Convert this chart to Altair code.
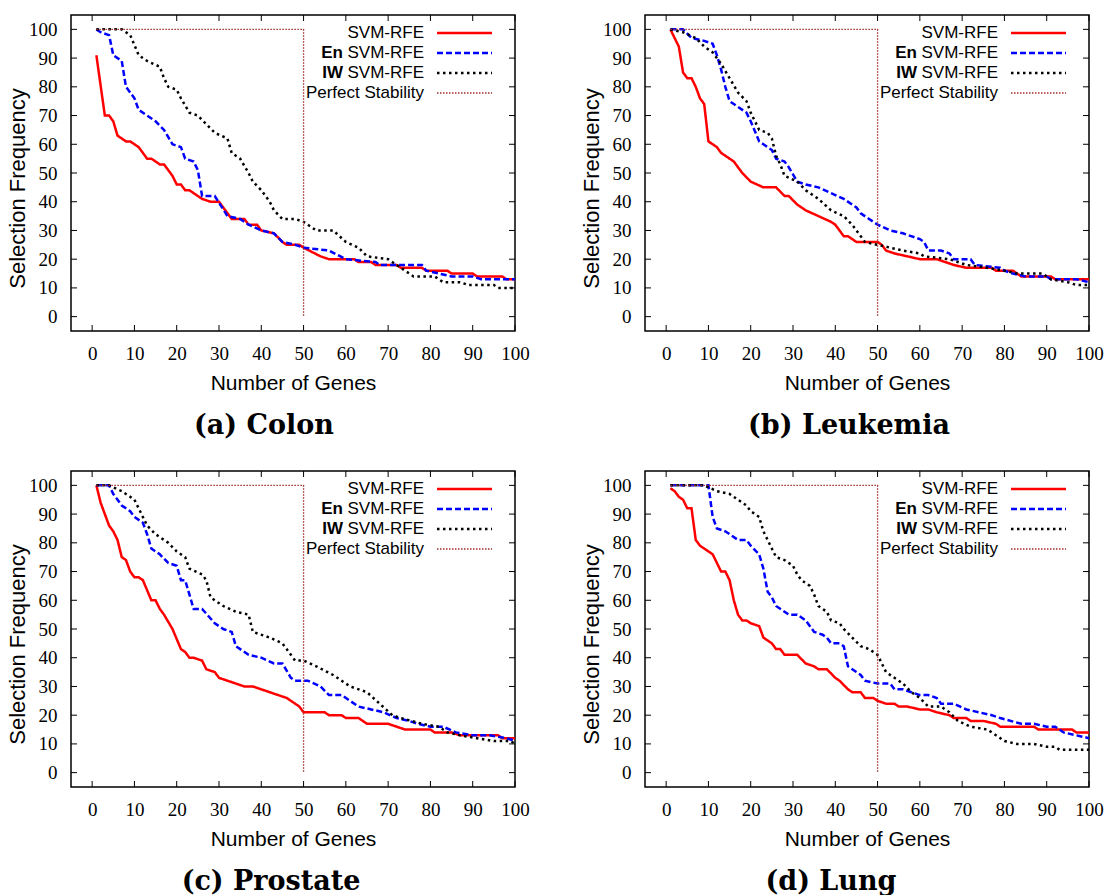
import altair as alt
import pandas as pd

# ---------------- data ----------------
ticks = [0, 10, 20, 30, 40, 50, 60, 70, 80, 90, 100]

colon_svm_x = [1, 3, 4, 5, 6, 8, 9, 11, 13, 14, 16, 17, 19, 20, 21, 22, 23, 26, 28, 30, 33, 36, 37, 39, 40, 43, 45, 46, 49, 50, 54, 56, 62, 63, 66, 67, 72, 73, 78, 79, 84, 85, 90, 91, 97, 98, 100]
colon_svm_y = [91, 70, 70, 68, 63, 61, 61, 59, 55, 55, 53, 53, 49, 46, 46, 44, 44, 41, 40, 40, 34, 34, 32, 32, 30, 29, 26, 25, 25, 24, 21, 20, 20, 19, 19, 18, 18, 17, 17, 16, 16, 15, 15, 14, 14, 13, 13]
colon_en_x = [1, 2, 4, 5, 7, 8, 10, 11, 13, 15, 17, 19, 21, 22, 24, 25, 26, 29, 32, 35, 37, 40, 43, 45, 48, 50, 56, 60, 67, 68, 78, 79, 82, 85, 90, 92, 100]
colon_en_y = [100, 99, 98, 91, 89, 80, 76, 72, 70, 68, 65, 60, 59, 55, 54, 51, 42, 42, 35, 34, 32, 30, 29, 26, 25, 24, 23, 20, 19, 18, 18, 16, 15, 14, 14, 13, 13]
colon_iw_x = [1, 7, 9, 11, 13, 16, 17, 18, 20, 21, 23, 25, 27, 29, 32, 33, 35, 37, 38, 40, 42, 43, 45, 48, 50, 52, 53, 57, 60, 63, 65, 70, 72, 76, 81, 83, 87, 89, 95, 96, 100]
colon_iw_y = [100, 100, 98, 91, 89, 87, 83, 80, 79, 76, 71, 70, 67, 64, 62, 57, 55, 50, 47, 44, 40, 37, 34, 34, 33, 31, 30, 30, 26, 24, 21, 20, 18, 14, 14, 12, 12, 11, 11, 10, 10]

leuk_svm_x = [1, 3, 4, 5, 6, 7, 8, 9, 10, 12, 13, 16, 18, 20, 23, 26, 28, 29, 31, 33, 36, 39, 40, 42, 43, 45, 50, 51, 52, 54, 57, 60, 64, 66, 68, 71, 77, 78, 82, 84, 91, 92, 100]
leuk_svm_y = [100, 94, 85, 83, 83, 80, 76, 74, 61, 59, 57, 54, 50, 47, 45, 45, 42, 42, 39, 37, 35, 33, 32, 28, 28, 26, 26, 25, 23, 22, 21, 20, 20, 19, 18, 17, 17, 16, 16, 14, 14, 13, 13]
leuk_en_x = [1, 4, 6, 9, 11, 12, 13, 14, 15, 16, 17, 19, 20, 22, 23, 25, 26, 28, 29, 31, 33, 36, 39, 42, 45, 46, 48, 50, 53, 56, 60, 61, 62, 65, 67, 68, 72, 73, 79, 80, 82, 85, 90, 91, 97, 100]
leuk_en_y = [100, 100, 97, 96, 95, 91, 86, 80, 75, 74, 73, 71, 68, 61, 60, 58, 55, 54, 52, 47, 46, 45, 43, 41, 38, 36, 34, 32, 30, 29, 27, 26, 23, 23, 22, 20, 20, 18, 17, 16, 15, 14, 14, 13, 13, 12]
leuk_iw_x = [1, 4, 7, 9, 11, 13, 15, 17, 19, 20, 21, 22, 24, 25, 26, 27, 28, 31, 33, 36, 39, 42, 44, 47, 50, 53, 56, 60, 61, 67, 71, 76, 80, 83, 89, 91, 95, 97, 100]
leuk_iw_y = [100, 99, 97, 94, 92, 88, 83, 78, 75, 71, 68, 65, 64, 62, 56, 53, 49, 47, 44, 41, 37, 35, 32, 26, 25, 24, 23, 22, 21, 20, 18, 17, 16, 15, 15, 13, 12, 11, 11]

prost_svm_x = [1, 2, 4, 5, 6, 7, 8, 9, 10, 11, 12, 14, 15, 16, 17, 19, 21, 22, 23, 24, 26, 27, 29, 30, 32, 34, 36, 38, 40, 42, 44, 46, 49, 50, 55, 56, 59, 60, 63, 65, 70, 72, 74, 80, 81, 85, 87, 96, 97, 100]
prost_svm_y = [100, 94, 86, 84, 81, 75, 74, 70, 68, 68, 67, 60, 60, 57, 55, 50, 43, 42, 40, 40, 39, 36, 35, 33, 32, 31, 30, 30, 29, 28, 27, 26, 23, 21, 21, 20, 20, 19, 19, 17, 17, 16, 15, 15, 14, 14, 13, 13, 12, 12]
prost_en_x = [1, 4, 5, 7, 9, 10, 12, 13, 14, 16, 18, 20, 21, 22, 24, 26, 29, 31, 33, 34, 37, 40, 43, 45, 47, 48, 51, 54, 56, 59, 63, 66, 69, 72, 75, 77, 80, 83, 86, 90, 94, 98, 100]
prost_en_y = [100, 100, 97, 93, 91, 89, 87, 83, 78, 76, 73, 72, 67, 67, 57, 57, 52, 50, 49, 44, 41, 40, 38, 38, 33, 32, 32, 30, 27, 27, 23, 22, 21, 19, 18, 17, 16, 16, 14, 13, 13, 12, 11]
prost_iw_x = [1, 4, 7, 10, 11, 13, 15, 18, 20, 22, 23, 26, 27, 28, 31, 34, 37, 38, 42, 45, 46, 48, 50, 53, 57, 61, 65, 68, 71, 73, 78, 82, 84, 87, 91, 95, 99, 100]
prost_iw_y = [100, 100, 98, 95, 92, 86, 83, 80, 77, 75, 71, 69, 67, 61, 58, 56, 55, 49, 47, 45, 43, 39, 39, 37, 34, 30, 28, 24, 20, 19, 17, 16, 14, 13, 12, 11, 11, 10]

lung_svm_x = [1, 2, 3, 4, 5, 6, 7, 8, 9, 11, 12, 13, 14, 15, 16, 17, 18, 19, 20, 22, 23, 25, 26, 27, 28, 31, 33, 35, 36, 38, 40, 41, 43, 44, 46, 47, 49, 50, 52, 54, 55, 57, 60, 62, 64, 67, 68, 71, 72, 75, 78, 79, 87, 88, 96, 97, 100]
lung_svm_y = [99, 98, 96, 95, 92, 92, 81, 79, 78, 76, 73, 70, 70, 67, 60, 55, 53, 53, 52, 51, 47, 45, 43, 43, 41, 41, 38, 37, 36, 36, 33, 32, 29, 28, 28, 26, 26, 25, 24, 24, 23, 23, 22, 22, 21, 20, 19, 19, 18, 18, 17, 16, 16, 15, 15, 14, 14]
lung_en_x = [1, 10, 11, 12, 14, 15, 17, 19, 20, 22, 23, 24, 25, 26, 28, 29, 31, 33, 35, 37, 38, 39, 41, 42, 43, 45, 46, 47, 50, 53, 54, 56, 58, 60, 62, 64, 65, 68, 71, 74, 77, 79, 84, 87, 90, 92, 94, 97, 100]
lung_en_y = [100, 100, 89, 85, 84, 83, 81, 81, 79, 76, 71, 63, 61, 58, 56, 55, 55, 53, 49, 48, 47, 45, 45, 44, 37, 35, 34, 32, 31, 31, 29, 29, 28, 27, 27, 26, 24, 24, 22, 21, 20, 19, 17, 17, 16, 16, 14, 13, 12]
lung_iw_x = [1, 9, 12, 15, 17, 19, 20, 22, 23, 24, 25, 26, 28, 30, 31, 32, 34, 35, 36, 38, 39, 41, 42, 44, 46, 48, 50, 51, 52, 54, 56, 58, 60, 62, 65, 67, 69, 72, 76, 78, 80, 83, 87, 90, 92, 93, 100]
lung_iw_y = [100, 100, 98, 97, 95, 93, 91, 89, 84, 81, 78, 75, 74, 72, 69, 67, 65, 62, 58, 56, 53, 52, 50, 47, 44, 43, 41, 38, 35, 33, 31, 28, 26, 23, 23, 21, 18, 16, 15, 13, 11, 10, 10, 9, 9, 8, 8]

perfect_x = [1, 50, 50]
perfect_y = [100, 100, 0]

captions = ["(a) Colon", "(b) Leukemia", "(c) Prostate", "(d) Lung"]
caption_dx = [-29, -18, -22, -36]
panels = [
    (colon_svm_x, colon_svm_y, colon_en_x, colon_en_y, colon_iw_x, colon_iw_y),
    (leuk_svm_x, leuk_svm_y, leuk_en_x, leuk_en_y, leuk_iw_x, leuk_iw_y),
    (prost_svm_x, prost_svm_y, prost_en_x, prost_en_y, prost_iw_x, prost_iw_y),
    (lung_svm_x, lung_svm_y, lung_en_x, lung_en_y, lung_iw_x, lung_iw_y),
]

# legend entries: (bold prefix, label)
legend_entries = [("", "SVM-RFE"), ("En", "SVM-RFE"), ("IW", "SVM-RFE"), ("", "Perfect Stability")]

# ---------------- styles ----------------
W, H = 444, 316
styles = [
    dict(color="#ff0000", strokeDash=[1, 0], strokeWidth=2.5),
    dict(color="#0000ff", strokeDash=[6, 3], strokeWidth=2.5),
    dict(color="#000000", strokeDash=[2.5, 3.5], strokeWidth=2.5),
    dict(color="#a52a2a", strokeDash=[1.5, 1.5], strokeWidth=1.3),
]
SANS = "Liberation Sans"
SERIF = "Liberation Serif"

xscale = alt.Scale(domain=[-5, 100], nice=False, zero=False)
yscale = alt.Scale(domain=[-5, 105], nice=False, zero=False)

xaxis = alt.Axis(values=ticks, ticks=False, domain=False, grid=False,
                 labelFont=SERIF, labelFontSize=19, labelColor="black",
                 labelPadding=13, labelFlush=False, labelOverlap=False,
                 title="Number of Genes", titleFont=SANS, titleFontSize=21,
                 titleFontWeight="normal", titleColor="black", titlePadding=9)
yaxis = alt.Axis(values=ticks, ticks=False, domain=False, grid=False,
                 labelFont=SERIF, labelFontSize=19, labelColor="black",
                 labelPadding=14, labelFlush=False, labelOverlap=False,
                 title="Selection Frequency", titleFont=SANS, titleFontSize=22,
                 titleFontWeight="normal", titleColor="black",
                 titleX=-42, titleY=173)


def series_df(xs, ys):
    return pd.DataFrame({"x": xs, "y": ys, "i": list(range(len(xs)))})


def panel(idx):
    sx, sy, ex, ey, wx, wy = panels[idx]
    series = [(sx, sy), (ex, ey), (wx, wy), (perfect_x, perfect_y)]
    layers = []
    for k, (xs, ys) in enumerate(series):
        st = styles[k]
        layers.append(alt.Chart(series_df(xs, ys)).mark_line(
            color=st["color"], strokeDash=st["strokeDash"], strokeWidth=st["strokeWidth"],
            clip=True).encode(
            x=alt.X("x:Q", scale=xscale, axis=xaxis),
            y=alt.Y("y:Q", scale=yscale, axis=yaxis),
            order="i:Q"))

    tdf = pd.DataFrame({"v": ticks})
    tl = 6
    layers.append(alt.Chart(tdf).mark_rule(color="black", strokeWidth=1).encode(
        x=alt.X("v:Q", scale=xscale, axis=xaxis), y=alt.value(H), y2=alt.value(H - tl)))
    layers.append(alt.Chart(tdf).mark_rule(color="black", strokeWidth=1).encode(
        x=alt.X("v:Q", scale=xscale, axis=xaxis), y=alt.value(0), y2=alt.value(tl)))
    layers.append(alt.Chart(tdf).mark_rule(color="black", strokeWidth=1).encode(
        y=alt.Y("v:Q", scale=yscale, axis=yaxis), x=alt.value(0), x2=alt.value(tl)))
    layers.append(alt.Chart(tdf).mark_rule(color="black", strokeWidth=1).encode(
        y=alt.Y("v:Q", scale=yscale, axis=yaxis), x=alt.value(W), x2=alt.value(W - tl)))

    # legend (inside, top right)
    text_right = 353
    row_y = [18, 38, 58, 78]
    for k, (bold, lab) in enumerate(legend_entries):
        st = styles[k]
        ldf = pd.DataFrame({"label": [lab], "bold": [bold]})
        layers.append(alt.Chart(ldf).mark_text(
            align="right", baseline="middle", font=SANS, fontSize=17, color="black").encode(
            text="label:N", x=alt.value(text_right), y=alt.value(row_y[k])))
        if bold:
            layers.append(alt.Chart(ldf).mark_text(
                align="right", baseline="middle", font=SANS, fontSize=17, fontWeight="bold",
                color="black").encode(
                text="bold:N", x=alt.value(text_right - 81), y=alt.value(row_y[k])))
        layers.append(alt.Chart(ldf).mark_rule(
            color=st["color"], strokeDash=st["strokeDash"], strokeWidth=st["strokeWidth"]).encode(
            x=alt.value(366), x2=alt.value(421), y=alt.value(row_y[k])))

    return alt.layer(*layers).properties(
        width=W, height=H,
        title=alt.TitleParams(captions[idx], orient="bottom", font="DejaVu Serif", fontSize=27,
                              fontWeight="bold", color="black", offset=20, anchor="middle",
                              dx=caption_dx[idx]))


top = alt.hconcat(panel(0), panel(1), spacing=49)
bottom = alt.hconcat(panel(2), panel(3), spacing=49)
chart = alt.vconcat(top, bottom, spacing=29).properties(
    padding={"left": 5, "top": 13, "right": 0, "bottom": 0}
).configure(
    background="white",
    view=alt.ViewConfig(stroke="black", strokeWidth=1.5),
)

chart.save("out.html", embed_options={"renderer": "svg", "actions": False})
